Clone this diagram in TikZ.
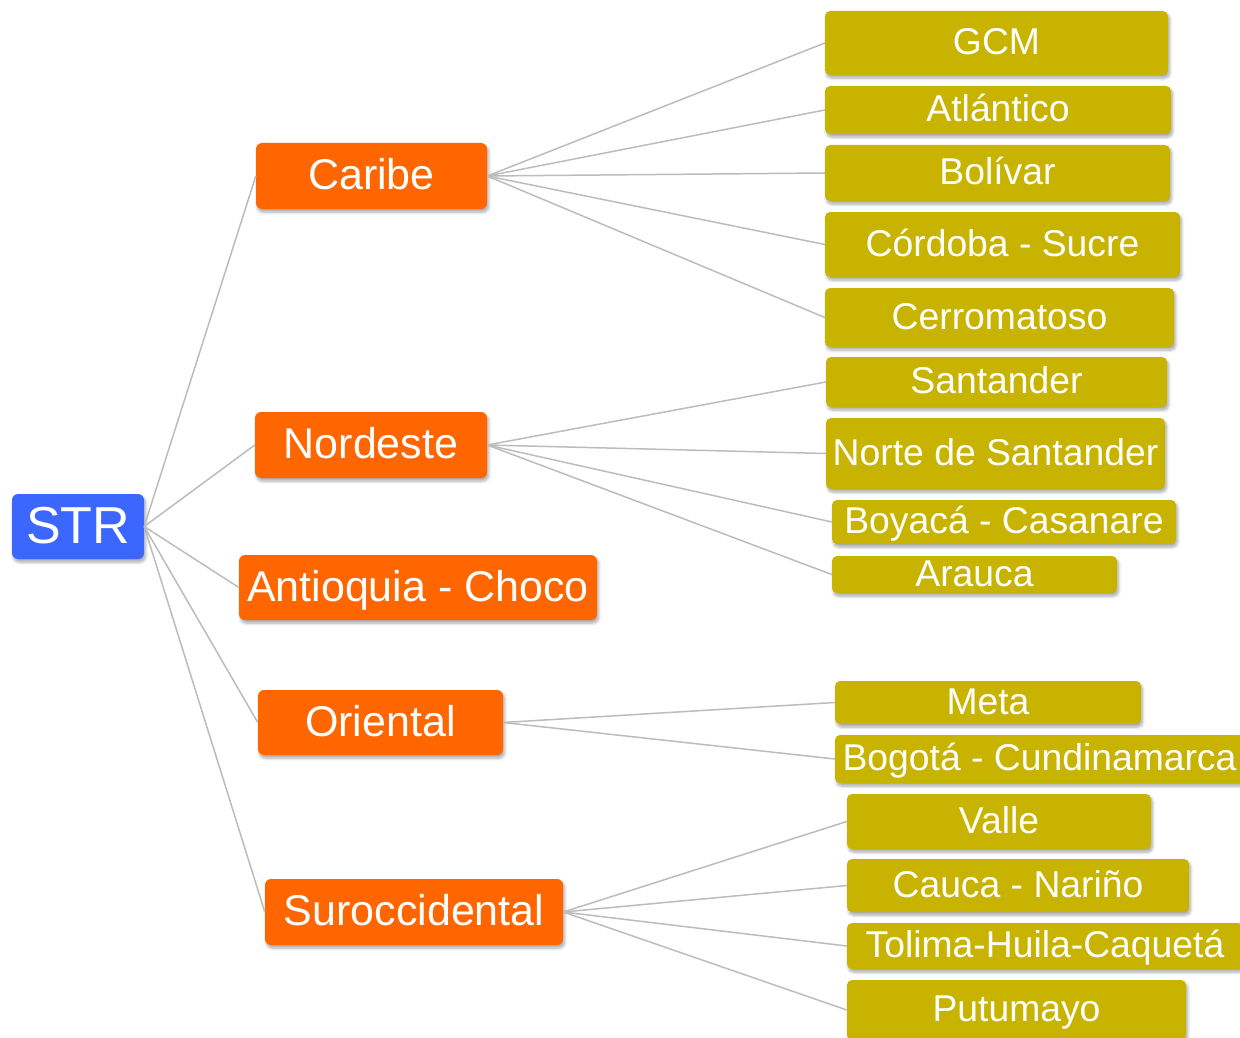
\documentclass[tikz,border=0pt]{standalone}
\usepackage{fontspec}
\setmainfont{Liberation Sans}
\usetikzlibrary{shadows.blur}

\definecolor{strblue}{RGB}{59,103,255}
\definecolor{regorange}{RGB}{255,102,0}
\definecolor{subolive}{RGB}{200,180,0}
\definecolor{linkgray}{RGB}{188,188,188}

\tikzset{
  box/.style={rounded corners=6pt, inner sep=0pt, text=white,
    blur shadow={shadow xshift=1.5pt, shadow yshift=-3pt,
      shadow blur steps=6, shadow opacity=35, shadow blur radius=3pt}},
  rootbox/.style={box, fill=strblue, font=\fontsize{52}{60}\selectfont,
    text height=37.4pt, text depth=4pt},
  regionbox/.style={box, fill=regorange, font=\fontsize{43}{50}\selectfont,
    text height=30.9pt, text depth=3.4pt},
  areabox/.style={box, fill=subolive, rounded corners=5pt,
    font=\fontsize{37.3}{44}\selectfont, text height=26.8pt, text depth=3pt},
  link/.style={draw=linkgray, line width=1.5pt},
}

\begin{document}
\begin{tikzpicture}[x=1pt, y=-1pt]
  \useasboundingbox (0,0) rectangle (1240,1038);

  % root
  \node[rootbox, minimum width=132pt, minimum height=65pt] (str) at (78,526.5) {STR};

  % regions
  \node[regionbox, minimum width=231pt, minimum height=66pt] (caribe) at (371.5,176) {Caribe};
  \node[regionbox, minimum width=232pt, minimum height=66pt] (nordeste) at (371,445) {Nordeste};
  \node[regionbox, minimum width=358pt, minimum height=65pt] (antioquia) at (418,587.5) {Antioquia - Choco};
  \node[regionbox, minimum width=245pt, minimum height=65pt] (oriental) at (380.5,722.5) {Oriental};
  \node[regionbox, minimum width=298pt, minimum height=66pt] (surocc) at (414,912) {Suroccidental};

  % Caribe areas
  \node[areabox, minimum width=343pt, minimum height=64pt] (gcm) at (996.5,43) {GCM};
  \node[areabox, minimum width=346pt, minimum height=48pt] (atlantico) at (998,110) {Atlántico};
  \node[areabox, minimum width=345pt, minimum height=56pt] (bolivar) at (997.5,173) {Bolívar};
  \node[areabox, minimum width=355pt, minimum height=65pt] (cordoba) at (1002.5,244.5) {Córdoba - Sucre};
  \node[areabox, minimum width=349pt, minimum height=59pt] (cerro) at (999.5,317.5) {Cerromatoso};

  % Nordeste areas
  \node[areabox, minimum width=341pt, minimum height=50pt] (santander) at (996.5,382) {Santander};
  \node[areabox, minimum width=339pt, minimum height=71pt] (norte) at (995.5,453.5) {Norte de Santander};
  \node[areabox, minimum width=344pt, minimum height=44pt] (boyaca) at (1004,522) {Boyacá - Casanare};
  \node[areabox, minimum width=285pt, minimum height=37pt] (arauca) at (974.5,574.5) {Arauca};

  % Oriental areas
  \node[areabox, minimum width=306pt, minimum height=43pt] (meta) at (988,702.5) {Meta};
  \node[areabox, minimum width=409pt, minimum height=48pt] (bogota) at (1039.5,759) {Bogotá - Cundinamarca};

  % Suroccidental areas
  \node[areabox, minimum width=304pt, minimum height=55pt] (valle) at (999,821.5) {Valle};
  \node[areabox, minimum width=342pt, minimum height=53pt] (cauca) at (1018,885.5) {Cauca - Nariño};
  \node[areabox, minimum width=396pt, minimum height=46pt] (tolima) at (1045,946) {Tolima-Huila-Caquetá};
  \node[areabox, minimum width=339pt, minimum height=60pt] (putumayo) at (1016.5,1010) {Putumayo};

  % connectors
  \foreach \r in {caribe, nordeste, antioquia, oriental, surocc}
    \draw[link] (str.east) -- (\r.west);
  \foreach \a in {gcm, atlantico, bolivar, cordoba, cerro}
    \draw[link] (caribe.east) -- (\a.west);
  \foreach \a in {santander, norte, boyaca, arauca}
    \draw[link] (nordeste.east) -- (\a.west);
  \foreach \a in {meta, bogota}
    \draw[link] (oriental.east) -- (\a.west);
  \foreach \a in {valle, cauca, tolima, putumayo}
    \draw[link] (surocc.east) -- (\a.west);
\end{tikzpicture}
\end{document}
